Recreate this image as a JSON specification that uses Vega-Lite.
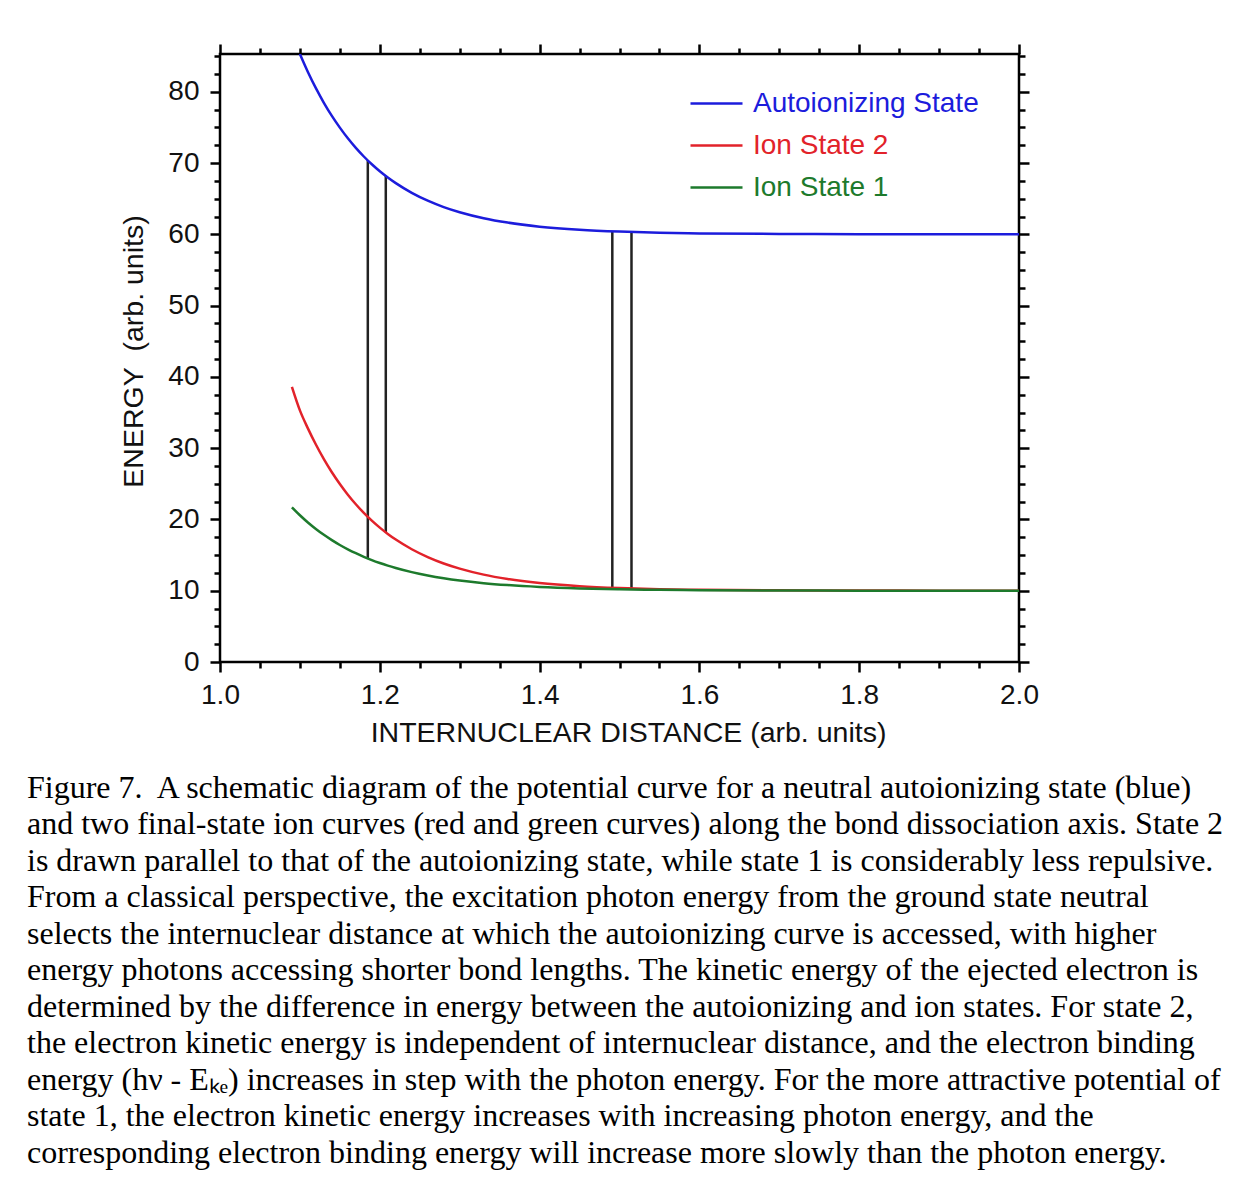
{
  "$schema": "https://vega.github.io/schema/vega-lite/v6.json",
  "width": 799,
  "height": 608,
  "autosize": {"type": "none"},
  "padding": {"left": 220, "top": 54, "right": 233, "bottom": 517},
  "background": "white",
  "title": {
    "text": [
      "Figure 7.\u00a0 A schematic diagram of the potential curve for a neutral autoionizing state (blue)",
      "and two final-state ion curves (red and green curves) along the bond dissociation axis. State 2",
      "is drawn parallel to that of the autoionizing state, while state 1 is considerably less repulsive.",
      "From a classical perspective, the excitation photon energy from the ground state neutral",
      "selects the internuclear distance at which the autoionizing curve is accessed, with higher",
      "energy photons accessing shorter bond lengths. The kinetic energy of the ejected electron is",
      "determined by the difference in energy between the autoionizing and ion states. For state 2,",
      "the electron kinetic energy is independent of internuclear distance, and the electron binding",
      "energy (hν - Eₖₑ) increases in step with the photon energy. For the more attractive potential of",
      "state 1, the electron kinetic energy increases with increasing photon energy, and the",
      "corresponding electron binding energy will increase more slowly than the photon energy."
    ],
    "orient": "bottom",
    "anchor": "start",
    "frame": "group",
    "dx": -193,
    "offset": 26,
    "baseline": "top",
    "font": "Liberation Serif",
    "fontSize": 32,
    "fontWeight": "normal",
    "color": "black",
    "lineHeight": 36.5
  },
  "datasets": {
    "curves": [
      {"r": 1.10, "E": 85.3, "series": "Autoionizing State"},
      {"r": 1.11, "E": 82.78, "series": "Autoionizing State"},
      {"r": 1.12, "E": 80.51, "series": "Autoionizing State"},
      {"r": 1.13, "E": 78.46, "series": "Autoionizing State"},
      {"r": 1.14, "E": 76.62, "series": "Autoionizing State"},
      {"r": 1.15, "E": 74.97, "series": "Autoionizing State"},
      {"r": 1.16, "E": 73.47, "series": "Autoionizing State"},
      {"r": 1.17, "E": 72.13, "series": "Autoionizing State"},
      {"r": 1.18, "E": 70.92, "series": "Autoionizing State"},
      {"r": 1.19, "E": 69.83, "series": "Autoionizing State"},
      {"r": 1.20, "E": 68.85, "series": "Autoionizing State"},
      {"r": 1.21, "E": 67.97, "series": "Autoionizing State"},
      {"r": 1.22, "E": 67.18, "series": "Autoionizing State"},
      {"r": 1.24, "E": 65.82, "series": "Autoionizing State"},
      {"r": 1.26, "E": 64.72, "series": "Autoionizing State"},
      {"r": 1.28, "E": 63.82, "series": "Autoionizing State"},
      {"r": 1.30, "E": 63.10, "series": "Autoionizing State"},
      {"r": 1.33, "E": 62.26, "series": "Autoionizing State"},
      {"r": 1.36, "E": 61.65, "series": "Autoionizing State"},
      {"r": 1.40, "E": 61.08, "series": "Autoionizing State"},
      {"r": 1.45, "E": 60.64, "series": "Autoionizing State"},
      {"r": 1.50, "E": 60.38, "series": "Autoionizing State"},
      {"r": 1.55, "E": 60.22, "series": "Autoionizing State"},
      {"r": 1.60, "E": 60.13, "series": "Autoionizing State"},
      {"r": 1.70, "E": 60.05, "series": "Autoionizing State"},
      {"r": 1.80, "E": 60.02, "series": "Autoionizing State"},
      {"r": 1.90, "E": 60.01, "series": "Autoionizing State"},
      {"r": 2.00, "E": 60.0, "series": "Autoionizing State"},
      {"r": 1.09, "E": 38.6, "series": "Ion State 2"},
      {"r": 1.10, "E": 35.3, "series": "Ion State 2"},
      {"r": 1.11, "E": 32.78, "series": "Ion State 2"},
      {"r": 1.12, "E": 30.51, "series": "Ion State 2"},
      {"r": 1.13, "E": 28.46, "series": "Ion State 2"},
      {"r": 1.14, "E": 26.62, "series": "Ion State 2"},
      {"r": 1.15, "E": 24.97, "series": "Ion State 2"},
      {"r": 1.16, "E": 23.47, "series": "Ion State 2"},
      {"r": 1.17, "E": 22.13, "series": "Ion State 2"},
      {"r": 1.18, "E": 20.92, "series": "Ion State 2"},
      {"r": 1.19, "E": 19.83, "series": "Ion State 2"},
      {"r": 1.20, "E": 18.85, "series": "Ion State 2"},
      {"r": 1.21, "E": 17.97, "series": "Ion State 2"},
      {"r": 1.22, "E": 17.18, "series": "Ion State 2"},
      {"r": 1.24, "E": 15.82, "series": "Ion State 2"},
      {"r": 1.26, "E": 14.72, "series": "Ion State 2"},
      {"r": 1.28, "E": 13.82, "series": "Ion State 2"},
      {"r": 1.30, "E": 13.10, "series": "Ion State 2"},
      {"r": 1.33, "E": 12.26, "series": "Ion State 2"},
      {"r": 1.36, "E": 11.65, "series": "Ion State 2"},
      {"r": 1.40, "E": 11.08, "series": "Ion State 2"},
      {"r": 1.45, "E": 10.64, "series": "Ion State 2"},
      {"r": 1.50, "E": 10.38, "series": "Ion State 2"},
      {"r": 1.55, "E": 10.22, "series": "Ion State 2"},
      {"r": 1.60, "E": 10.13, "series": "Ion State 2"},
      {"r": 1.70, "E": 10.05, "series": "Ion State 2"},
      {"r": 1.80, "E": 10.02, "series": "Ion State 2"},
      {"r": 1.90, "E": 10.01, "series": "Ion State 2"},
      {"r": 2.00, "E": 10.0, "series": "Ion State 2"},
      {"r": 1.09, "E": 21.7, "series": "Ion State 1"},
      {"r": 1.10, "E": 20.59, "series": "Ion State 1"},
      {"r": 1.11, "E": 19.58, "series": "Ion State 1"},
      {"r": 1.12, "E": 18.67, "series": "Ion State 1"},
      {"r": 1.13, "E": 17.84, "series": "Ion State 1"},
      {"r": 1.14, "E": 17.10, "series": "Ion State 1"},
      {"r": 1.15, "E": 16.42, "series": "Ion State 1"},
      {"r": 1.16, "E": 15.81, "series": "Ion State 1"},
      {"r": 1.17, "E": 15.26, "series": "Ion State 1"},
      {"r": 1.18, "E": 14.76, "series": "Ion State 1"},
      {"r": 1.19, "E": 14.30, "series": "Ion State 1"},
      {"r": 1.20, "E": 13.89, "series": "Ion State 1"},
      {"r": 1.21, "E": 13.52, "series": "Ion State 1"},
      {"r": 1.22, "E": 13.19, "series": "Ion State 1"},
      {"r": 1.24, "E": 12.61, "series": "Ion State 1"},
      {"r": 1.26, "E": 12.14, "series": "Ion State 1"},
      {"r": 1.28, "E": 11.75, "series": "Ion State 1"},
      {"r": 1.30, "E": 11.43, "series": "Ion State 1"},
      {"r": 1.33, "E": 11.06, "series": "Ion State 1"},
      {"r": 1.36, "E": 10.79, "series": "Ion State 1"},
      {"r": 1.40, "E": 10.53, "series": "Ion State 1"},
      {"r": 1.45, "E": 10.32, "series": "Ion State 1"},
      {"r": 1.50, "E": 10.19, "series": "Ion State 1"},
      {"r": 1.55, "E": 10.12, "series": "Ion State 1"},
      {"r": 1.60, "E": 10.07, "series": "Ion State 1"},
      {"r": 1.70, "E": 10.03, "series": "Ion State 1"},
      {"r": 1.80, "E": 10.01, "series": "Ion State 1"},
      {"r": 1.90, "E": 10.0, "series": "Ion State 1"},
      {"r": 2.00, "E": 10.0, "series": "Ion State 1"}
    ],
    "drops": [
      {"r": 1.185, "lo": 14.5, "hi": 70.4},
      {"r": 1.2075, "lo": 18.2, "hi": 68.2},
      {"r": 1.491, "lo": 10.4, "hi": 60.4},
      {"r": 1.515, "lo": 10.3, "hi": 60.3}
    ]
  },
  "layer": [
    {
      "data": {"name": "drops"},
      "mark": {"type": "rule", "strokeWidth": 2.5, "color": "#222222"},
      "encoding": {
        "x": {"field": "r", "type": "quantitative",
          "scale": {"domain": [1, 2], "nice": false, "zero": false},
          "axis": {"orient": "top", "values": [1, 1.2, 1.4, 1.6, 1.8, 2], "labels": false, "title": null, "tickSize": 10}},
        "y": {"field": "lo", "type": "quantitative",
          "scale": {"domain": [0, 85.3], "nice": false, "zero": false},
          "axis": {"orient": "right", "values": [0, 10, 20, 30, 40, 50, 60, 70, 80], "labels": false, "title": null, "tickSize": 10}},
        "y2": {"field": "hi"}
      }
    },
    {
      "data": {"name": "curves"},
      "mark": {"type": "line", "strokeWidth": 2.5, "interpolate": "monotone", "clip": true},
      "encoding": {
        "x": {"field": "r", "type": "quantitative",
          "scale": {"domain": [1, 2], "nice": false, "zero": false},
          "axis": {"orient": "bottom", "values": [1, 1.2, 1.4, 1.6, 1.8, 2], "format": ".1f", "tickSize": 10, "labelPadding": 9,
            "title": "INTERNUCLEAR DISTANCE (arb. units)", "titleX": 408, "titleY": 79, "titleBaseline": "alphabetic", "titleAlign": "center"}},
        "y": {"field": "E", "type": "quantitative",
          "scale": {"domain": [0, 85.3], "nice": false, "zero": false},
          "axis": {"orient": "left", "values": [0, 10, 20, 30, 40, 50, 60, 70, 80], "format": "d", "tickSize": 10, "labelPadding": 11,
            "title": "ENERGY\u00a0\u00a0(arb. units)", "titleX": -78, "titleY": 297, "titleAngle": 270, "titleBaseline": "alphabetic", "titleAlign": "center"}},
        "color": {"field": "series", "type": "nominal",
          "scale": {"domain": ["Autoionizing State", "Ion State 2", "Ion State 1"], "range": ["#1c1cdc", "#e2222a", "#1d7a2c"]},
          "legend": {
            "orient": "none", "legendX": 469, "legendY": 22, "title": null,
            "symbolType": "stroke", "symbolSize": 2704, "symbolStrokeWidth": 2.5,
            "labelFont": "Liberation Sans", "labelFontSize": 28, "labelOffset": 9, "labelLimit": 400, "rowPadding": -2,
            "encode": {"labels": {"update": {"fill": {"scale": "color", "field": "value"}}}}
          }}
      }
    },
    {
      "data": {"name": "drops"},
      "mark": {"type": "rule", "opacity": 0},
      "encoding": {
        "x": {"field": "r", "type": "quantitative",
          "scale": {"domain": [1, 2], "nice": false, "zero": false},
          "axis": {"orient": "bottom", "values": [1.05, 1.1, 1.15, 1.25, 1.3, 1.35, 1.45, 1.5, 1.55, 1.65, 1.7, 1.75, 1.85, 1.9, 1.95], "labels": false, "title": null, "tickSize": 6}},
        "y": {"field": "lo", "type": "quantitative",
          "scale": {"domain": [0, 85.3], "nice": false, "zero": false},
          "axis": {"orient": "left", "values": [2.5, 5, 7.5, 12.5, 15, 17.5, 22.5, 25, 27.5, 32.5, 35, 37.5, 42.5, 45, 47.5, 52.5, 55, 57.5, 62.5, 65, 67.5, 72.5, 75, 77.5, 82.5, 85], "labels": false, "title": null, "tickSize": 6}},
        "y2": {"field": "hi"}
      }
    },
    {
      "data": {"name": "drops"},
      "mark": {"type": "rule", "opacity": 0},
      "encoding": {
        "x": {"field": "r", "type": "quantitative",
          "scale": {"domain": [1, 2], "nice": false, "zero": false},
          "axis": {"orient": "top", "values": [1.05, 1.1, 1.15, 1.25, 1.3, 1.35, 1.45, 1.5, 1.55, 1.65, 1.7, 1.75, 1.85, 1.9, 1.95], "labels": false, "title": null, "tickSize": 6}},
        "y": {"field": "lo", "type": "quantitative",
          "scale": {"domain": [0, 85.3], "nice": false, "zero": false},
          "axis": {"orient": "right", "values": [2.5, 5, 7.5, 12.5, 15, 17.5, 22.5, 25, 27.5, 32.5, 35, 37.5, 42.5, 45, 47.5, 52.5, 55, 57.5, 62.5, 65, 67.5, 72.5, 75, 77.5, 82.5, 85], "labels": false, "title": null, "tickSize": 6}},
        "y2": {"field": "hi"}
      }
    }
  ],
  "resolve": {"axis": {"x": "independent", "y": "independent"}},
  "config": {
    "view": {"stroke": "black", "strokeWidth": 2.5},
    "axis": {
      "domain": false, "grid": false, "tickColor": "black", "tickWidth": 2.5,
      "labelFlush": false, "labelOverlap": false,
      "labelFont": "Liberation Sans", "labelFontSize": 28, "labelColor": "#111111",
      "titleFont": "Liberation Sans", "titleFontSize": 28.5, "titleFontWeight": "normal", "titleColor": "#111111"
    }
  }
}
